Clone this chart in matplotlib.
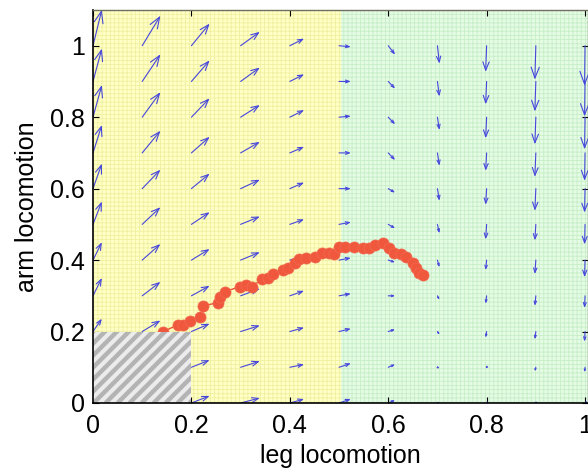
import numpy as np
import matplotlib
matplotlib.use("Agg")
import matplotlib.pyplot as plt
from matplotlib.patches import Rectangle, FancyArrowPatch

plt.rcParams['font.family'] = ['Liberation Sans', 'DejaVu Sans']
plt.rcParams['hatch.linewidth'] = 0.6

# ---------------- data ----------------
grid_x = [0.0, 0.1, 0.2, 0.3, 0.4, 0.5, 0.6, 0.7, 0.8, 0.9, 1.0]
grid_y = [0.0, 0.1, 0.2, 0.3, 0.4, 0.5, 0.6, 0.7, 0.8, 0.9, 1.0]

# horizontal component for each column (same for all rows)
u_by_column = [0.018, 0.037, 0.037, 0.039, 0.029, 0.024, 0.014, 0.004, -0.002, -0.002, -0.001]

# vertical component, one list per column, rows from y=0 to y=1
v_by_column = [
    [0.022, 0.028, 0.036, 0.050, 0.050, 0.064, 0.070, 0.078, 0.090, 0.092, 0.101],
    [0.017, 0.022, 0.031, 0.039, 0.045, 0.048, 0.053, 0.062, 0.070, 0.076, 0.084],
    [0.020, 0.020, 0.022, 0.028, 0.031, 0.034, 0.042, 0.045, 0.053, 0.059, 0.062],
    [0.014, 0.017, 0.017, 0.020, 0.022, 0.022, 0.025, 0.031, 0.034, 0.039, 0.039],
    [0.011, 0.008, 0.011, 0.014, 0.014, 0.014, 0.017, 0.017, 0.020, 0.020, 0.020],
    [0.011, 0.011, 0.008, 0.006, 0.006, 0.006, 0.000, 0.000, 0.003, 0.000, -0.003],
    [0.008, 0.008, 0.006, 0.000, -0.006, -0.011, -0.011, -0.020, -0.020, -0.020, -0.025],
    [0.000, -0.003, -0.008, -0.011, -0.020, -0.025, -0.034, -0.036, -0.036, -0.042, -0.050],
    [-0.001, -0.003, -0.017, -0.022, -0.028, -0.042, -0.045, -0.050, -0.059, -0.064, -0.073],
    [-0.003, -0.011, -0.022, -0.028, -0.039, -0.045, -0.062, -0.067, -0.076, -0.084, -0.095],
    [-0.001, -0.014, -0.028, -0.034, -0.048, -0.056, -0.067, -0.078, -0.090, -0.098, -0.112],
]

traj_x = [0.143, 0.173, 0.182, 0.198, 0.218, 0.224, 0.255, 0.259, 0.269, 0.299,
          0.310, 0.324, 0.344, 0.356, 0.365, 0.387, 0.397, 0.411, 0.418, 0.432,
          0.452, 0.466, 0.479, 0.489, 0.499, 0.513, 0.530, 0.548, 0.560, 0.574,
          0.589, 0.601, 0.611, 0.625, 0.637, 0.650, 0.656, 0.662, 0.670]
traj_y = [0.200, 0.219, 0.219, 0.230, 0.242, 0.272, 0.281, 0.298, 0.312, 0.326,
          0.331, 0.326, 0.348, 0.351, 0.362, 0.371, 0.379, 0.393, 0.402, 0.407,
          0.410, 0.419, 0.421, 0.416, 0.438, 0.438, 0.438, 0.433, 0.435, 0.441,
          0.447, 0.433, 0.421, 0.416, 0.410, 0.393, 0.379, 0.365, 0.357]

tick_values = [0, 0.2, 0.4, 0.6, 0.8, 1.0]
tick_labels = ['0', '0.2', '0.4', '0.6', '0.8', '1']

region_split = 0.505
forbidden_w, forbidden_h = 0.2, 0.2
xmax, ymax = 1.005, 1.1

# ---------------- figure ----------------
W, H = 588, 472
fig = plt.figure(figsize=(W / 100, H / 100), dpi=100)
ax_left, ax_right, ax_top, ax_bottom = 93, 587.5, 10, 403
ax = fig.add_axes([ax_left / W, 1 - ax_bottom / H, (ax_right - ax_left) / W, (ax_bottom - ax_top) / H])
ax.set_xlim(0, xmax)
ax.set_ylim(0, ymax)

kx = (ax_right - ax_left) / xmax   # px per data unit
ky = (ax_bottom - ax_top) / ymax

# background regions with fine grid texture
ax.add_patch(Rectangle((0, 0), region_split, ymax, facecolor='#ffffc6', edgecolor='#f0f0a0',
                       hatch='++++', linewidth=0, zorder=0))
ax.add_patch(Rectangle((region_split, 0), xmax - region_split, ymax, facecolor='#e4fbe4',
                       edgecolor='#c8eec8', hatch='++++', linewidth=0, zorder=0))

# vector field (MATLAB-like line arrows)
arrow_color = '#4646dc'
for j, x0 in enumerate(grid_x):
    for i, y0 in enumerate(grid_y):
        u = u_by_column[j]
        v = v_by_column[j][i]
        L = np.hypot(u * kx, v * ky) * 0.72  # length in points
        hl = max(0.32 * L, 0.8)
        hw = max(0.12 * L, 0.4)
        arr = FancyArrowPatch((x0, y0), (x0 + u, y0 + v),
                              arrowstyle=f'->,head_length={hl:.2f},head_width={hw:.2f}',
                              mutation_scale=1, shrinkA=0, shrinkB=0,
                              color=arrow_color, linewidth=0.8, zorder=2)
        ax.add_patch(arr)

# trajectory
ax.plot(traj_x, traj_y, '-', color='#e8503a', linewidth=1.0, zorder=3)
ax.plot(traj_x, traj_y, 'o', markersize=8, markerfacecolor='#f0583e',
        markeredgecolor='#f26a50', markeredgewidth=0.5, linestyle='none', zorder=4)

# forbidden striped region
rect = Rectangle((0, 0), forbidden_w, forbidden_h, facecolor='#ececec', edgecolor='none', zorder=5)
ax.add_patch(rect)
period = 12.0 / kx
slope = kx / ky
c = -forbidden_h / slope - period
while c < forbidden_w + period:
    xs = np.array([c, c + 0.4])
    ys = slope * (xs - c)
    ln, = ax.plot(xs, ys, color='#b4b4b4', linewidth=3.2, solid_capstyle='butt', zorder=6)
    ln.set_clip_path(rect)
    c += period

# axes styling
ax.set_xticks(tick_values)
ax.set_xticklabels(tick_labels)
ax.set_yticks(tick_values)
ax.set_yticklabels(tick_labels)
ax.tick_params(direction='in', length=4, width=0.8, top=True, right=True, labelsize=18)
ax.tick_params(axis='x', pad=8)
ax.tick_params(axis='y', pad=6)
for s in ['left', 'bottom']:
    ax.spines[s].set_color('black')
    ax.spines[s].set_linewidth(1.2)
for s in ['top', 'right']:
    ax.spines[s].set_color('#707060')
    ax.spines[s].set_linewidth(1.0)
for s in ax.spines.values():
    s.set_zorder(10)

ax.set_xlabel('leg locomotion', fontsize=18, labelpad=4)
ax.set_ylabel('arm locomotion', fontsize=18, labelpad=8)

fig.savefig('out.png', dpi=100)
